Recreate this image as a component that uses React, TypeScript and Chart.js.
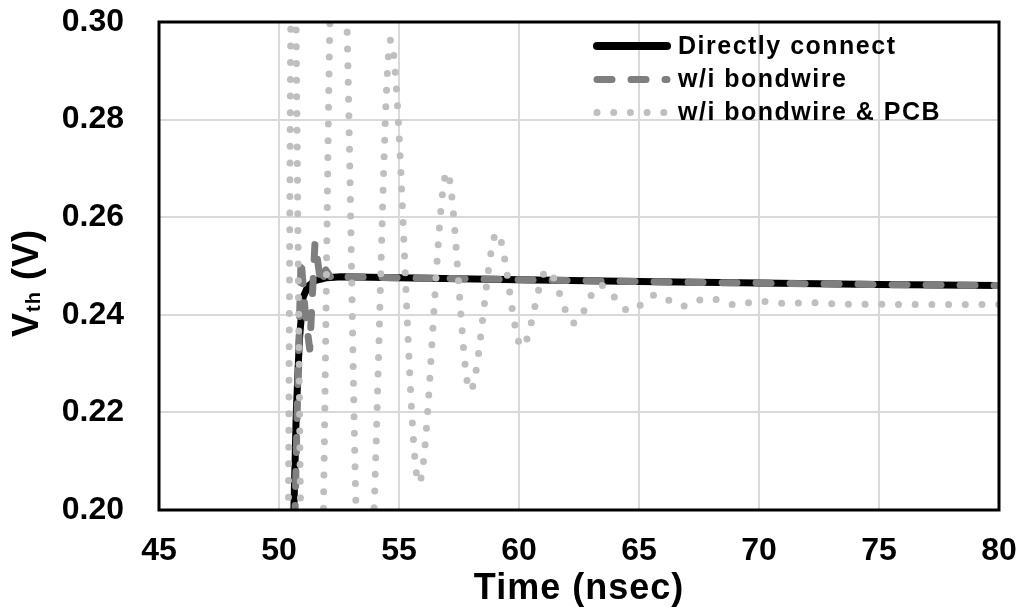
import { useEffect, useRef } from "react";
import { Chart, registerables } from "chart.js";

Chart.register(...registerables);

// Axis ranges and ticks
const TIME_MIN = 45;
const TIME_MAX = 80;
const TIME_STEP = 5;
const VTH_MIN = 0.2;
const VTH_MAX = 0.3;
const VTH_STEP = 0.02;

// Series names
const SERIES_NAMES = ["Directly connect", "w/i bondwire", "w/i bondwire & PCB"];

// Directly connect (ns, V)
const DIRECT_T = [50.5, 50.62, 50.72, 50.85, 51.0, 51.2, 51.5, 52.0, 52.6, 55, 60, 65, 70, 75, 80];
const DIRECT_V = [0.17, 0.2, 0.22, 0.235, 0.2435, 0.2458, 0.247, 0.2476, 0.2478, 0.2476, 0.2472, 0.2468, 0.2465, 0.2462, 0.246];

// With bondwire (ns, V)
const BOND_T = [50.55, 50.67, 50.78, 50.92, 51.1, 51.28, 51.5, 51.75, 51.95, 52.2, 52.6, 55, 60, 65, 70, 75, 80];
const BOND_V = [0.17, 0.2, 0.225, 0.2515, 0.24, 0.233, 0.2548, 0.2462, 0.2492, 0.2474, 0.2478, 0.2476, 0.2472, 0.2468, 0.2465, 0.2462, 0.246];

// With bondwire & PCB (ns, V)
const PCB_T = [
  50.2, 50.39, 50.49, 50.58, 50.71, 50.9, 51.35, 51.85, 52.12, 52.45, 52.83, 53.21, 53.6, 53.96, 54.65,
  55.83, 57.0, 57.96, 59.08, 60.12, 61.17, 62.29, 63.38, 64.62, 65.7, 66.8, 67.85, 69.1, 69.9, 71.2, 72.0,
  73.3, 80.0,
];
const PCB_V = [
  0.1, 0.2, 0.3, 0.36, 0.3, 0.2, 0.08, 0.2, 0.3, 0.35, 0.3, 0.2, 0.15, 0.2, 0.2963,
  0.2055, 0.2693, 0.2244, 0.2568, 0.2334, 0.2492, 0.2383, 0.2461, 0.2408, 0.2441, 0.2418, 0.2434, 0.242, 0.2428, 0.2423, 0.2425,
  0.2422, 0.2421,
];

const FONT = '"Liberation Sans", Arial, sans-serif';
const BLACK = "#000000";
const DASH_GRAY = "#7f7f7f";
const DOT_GRAY = "#bfbfbf";
const GRID = "#d9d9d9";

const toPoints = (t: number[], v: number[]) => t.map((x, i) => ({ x, y: v[i] }));

const LINE_STYLES = [
  { color: BLACK, width: 7, dash: [] as number[] },
  { color: DASH_GRAY, width: 7, dash: [15, 19] },
  { color: DOT_GRAY, width: 7, dash: [0, 16.7] },
];

// Black frame round the plot area
const framePlugin = {
  id: "plotFrame",
  afterDatasetsDraw(chart: any) {
    const { ctx, chartArea: a } = chart;
    ctx.save();
    ctx.strokeStyle = "#000";
    ctx.lineWidth = 3;
    ctx.strokeRect(a.left, a.top, a.right - a.left, a.bottom - a.top);
    ctx.restore();
  },
};

// Legend inside the plot, top right
const legendPlugin = {
  id: "innerLegend",
  afterDraw(chart: any) {
    const { ctx } = chart;
    const x0 = 597;
    const x1 = 667;
    const textX = 678;
    const rows = [46, 79.5, 112.5];
    ctx.save();
    SERIES_NAMES.forEach((name, i) => {
      const s = LINE_STYLES[i];
      const y = rows[i];
      ctx.beginPath();
      ctx.lineCap = "round";
      ctx.strokeStyle = s.color;
      ctx.lineWidth = i === 0 ? 8 : s.width;
      ctx.setLineDash(s.dash);
      ctx.moveTo(x0, y);
      ctx.lineTo(x1, y);
      ctx.stroke();
      ctx.setLineDash([]);
      ctx.fillStyle = "#000";
      ctx.font = `bold 25px ${FONT}`;
      (ctx as any).letterSpacing = "1.5px";
      ctx.textBaseline = "middle";
      ctx.textAlign = "left";
      ctx.fillText(name, textX, y + 1);
      (ctx as any).letterSpacing = "0px";
    });
    ctx.restore();
  },
};

// Axis titles, with the subscript in V_th
const titlePlugin = {
  id: "axisTitles",
  afterDraw(chart: any) {
    const { ctx, chartArea: a } = chart;
    ctx.save();
    ctx.fillStyle = "#000";
    ctx.textBaseline = "alphabetic";
    ctx.textAlign = "center";
    ctx.font = `bold 36px ${FONT}`;
    (ctx as any).letterSpacing = "1px";
    ctx.fillText("Time (nsec)", (a.left + a.right) / 2, 599);

    ctx.translate(38, 337);
    ctx.rotate(-Math.PI / 2);
    ctx.textAlign = "left";
    ctx.font = `bold 36px ${FONT}`;
    ctx.fillText("V", 0, 0);
    let w = ctx.measureText("V").width;
    ctx.font = `bold 20px ${FONT}`;
    ctx.fillText("th", w, 2);
    w += ctx.measureText("th").width;
    ctx.font = `bold 36px ${FONT}`;
    ctx.fillText(" (V)", w, 0);
    ctx.restore();
  },
};

export default function App() {
  const canvasRef = useRef<HTMLCanvasElement | null>(null);

  useEffect(() => {
    const canvas = canvasRef.current;
    if (!canvas) return;
    const series = [toPoints(DIRECT_T, DIRECT_V), toPoints(BOND_T, BOND_V), toPoints(PCB_T, PCB_V)];
    const chart = new Chart(canvas, {
      type: "line",
      data: {
        datasets: series.map((data, i) => ({
          label: SERIES_NAMES[i],
          data,
          borderColor: LINE_STYLES[i].color,
          borderWidth: LINE_STYLES[i].width,
          borderDash: LINE_STYLES[i].dash,
          borderCapStyle: "round",
          borderJoinStyle: "round",
          pointRadius: 0,
          fill: false,
          tension: 0,
          cubicInterpolationMode: i === 2 ? "monotone" : "default",
          order: 2 - i,
          clip: 1,
        })) as any,
      },
      options: {
        animation: false,
        responsive: false,
        devicePixelRatio: 1,
        layout: { padding: { left: 0, right: 22, top: 22, bottom: 0 } },
        plugins: { legend: { display: false }, tooltip: { enabled: false } },
        scales: {
          x: {
            type: "linear",
            min: TIME_MIN,
            max: TIME_MAX,
            border: { display: false },
            grid: { color: GRID, lineWidth: 2, drawTicks: false },
            ticks: {
              stepSize: TIME_STEP,
              padding: 22,
              maxRotation: 0,
              color: "#000",
              font: { family: FONT, size: 32, weight: "bold" },
            },
            afterFit: (s: any) => {
              s.height = 102;
              s.paddingLeft = 0;
              s.paddingRight = 0;
            },
          },
          y: {
            type: "linear",
            min: VTH_MIN,
            max: VTH_MAX,
            border: { display: false },
            grid: { color: GRID, lineWidth: 2, drawTicks: false },
            ticks: {
              stepSize: VTH_STEP,
              padding: 35,
              color: "#000",
              font: { family: FONT, size: 32, weight: "bold" },
              callback: (v: any) => Number(v).toFixed(2),
            },
            afterFit: (s: any) => {
              s.width = 159;
              s.paddingTop = 0;
              s.paddingBottom = 0;
            },
          },
        },
      } as any,
      plugins: [framePlugin, legendPlugin, titlePlugin],
    });
    return () => chart.destroy();
  }, []);

  return (
    <div style={{ position: "absolute", left: 0, top: 0, width: 1021, height: 612, background: "#fff" }}>
      <canvas ref={canvasRef} width={1021} height={612} />
    </div>
  );
}
